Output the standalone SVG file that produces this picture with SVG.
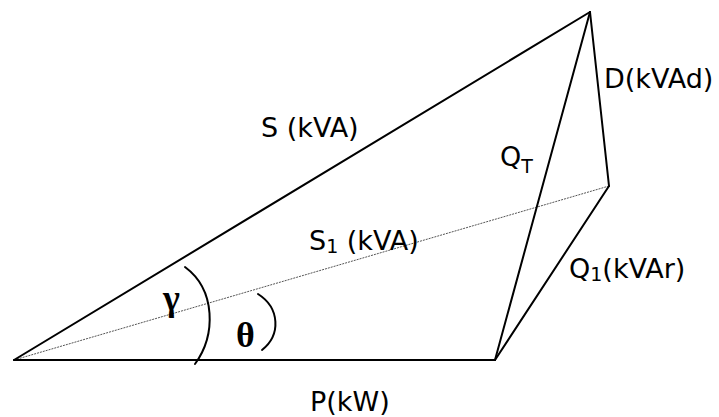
<svg xmlns="http://www.w3.org/2000/svg" width="719" height="417" viewBox="0 0 719 417">
<style>
.ln{stroke:#000;stroke-width:2;fill:none;stroke-linecap:round;stroke-linejoin:round}
.dot{stroke:#555;stroke-width:1;stroke-dasharray:2 1;fill:none}
.lbl{font-family:"DejaVu Sans","Open Sans",sans-serif;font-size:27px;fill:#000}
.sub{font-size:19px}
.gr{font-family:"Liberation Serif","DejaVu Serif",serif;font-size:36px;font-weight:bold;fill:#000}
</style>
<rect width="719" height="417" fill="#fff"/>
<g id="connectors">
<line class="dot" x1="14" y1="360" x2="609" y2="186"/>
<line class="ln" x1="14" y1="360" x2="495" y2="360"/>
<line class="ln" x1="14" y1="360" x2="590" y2="12"/>
<line class="ln" x1="495" y1="360" x2="609" y2="186"/>
<line class="ln" x1="609" y1="186" x2="590" y2="12"/>
<line class="ln" x1="495" y1="360" x2="590" y2="12"/>
</g>
<g id="angle-gamma">
<path class="ln" d="M185,267 C216,290 216,335 195,364"/>
<text class="gr" x="163" y="310">γ</text>
</g>
<g id="angle-theta">
<path class="ln" d="M258,294 C280,308 281,335 262,350"/>
<text class="gr" x="236" y="347">θ</text>
</g>
<g id="label-S"><text class="lbl" x="261" y="137">S (kVA)</text></g>
<g id="label-S1"><text class="lbl" x="309" y="250">S<tspan class="sub" dy="3">1</tspan><tspan dy="-3"> (kVA)</tspan></text></g>
<g id="label-P"><text class="lbl" x="310" y="411">P(kW)</text></g>
<g id="label-D"><text class="lbl" x="604" y="88">D(kVAd)</text></g>
<g id="label-QT"><text class="lbl" x="500" y="166">Q<tspan class="sub" dy="7">T</tspan></text></g>
<g id="label-Q1"><text class="lbl" x="569" y="278">Q<tspan class="sub" dy="3">1</tspan><tspan dy="-3">(kVAr)</tspan></text></g>
</svg>
